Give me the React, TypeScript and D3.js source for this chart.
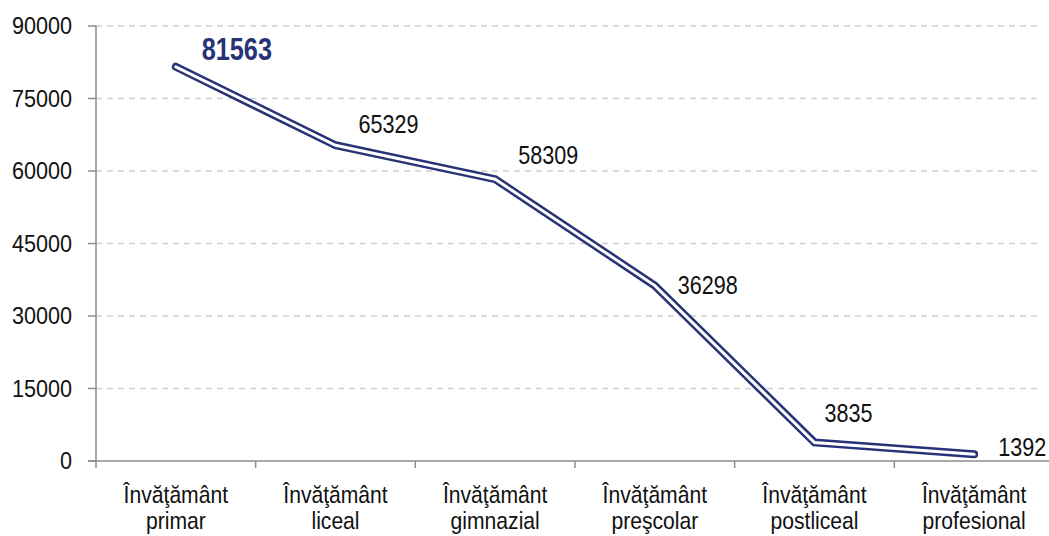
import React from "react";
import * as d3 from "d3";

const categoriesLine1 = ["Învăţământ", "Învăţământ", "Învăţământ", "Învăţământ", "Învăţământ", "Învăţământ"];
const categoriesLine2 = ["primar", "liceal", "gimnazial", "preşcolar", "postliceal", "profesional"];
const values = [81563, 65329, 58309, 36298, 3835, 1392];
const yTicks = [0, 15000, 30000, 45000, 60000, 75000, 90000];
// label offsets (layout) relative to each point
const labelDx = [61, 53, 53, 53, 34, 48];
const labelDy = [-18, -21, -24, -1, -29.5, -7];

const W = 1049;
const H = 536;
const m = { left: 96, right: 1054, top: 26, bottom: 461 };
const font = "'Liberation Sans', Arial, sans-serif";
const navy = "#283377";

function SText(props: {
  x: number;
  y: number;
  sx: number;
  size: number;
  anchor: string;
  weight?: string;
  fill?: string;
  dy?: string;
  children: React.ReactNode;
}) {
  return (
    <g transform={`translate(${props.x},${props.y}) scale(${props.sx},1)`}>
      <text
        x={0}
        y={0}
        dy={props.dy}
        textAnchor={props.anchor as any}
        fontSize={props.size}
        fontWeight={props.weight || "normal"}
        fill={props.fill || "#111"}
      >
        {props.children}
      </text>
    </g>
  );
}

export default function App() {
  const cats = values.map((_, i) => String(i));
  const x = d3.scaleBand().domain(cats).range([m.left, m.right]);
  const y = d3.scaleLinear().domain([0, 90000]).range([m.bottom, m.top]);
  const cx = (i: number) => (x(String(i)) as number) + x.bandwidth() / 2;
  const line = d3
    .line<number>()
    .x((_, i) => cx(i))
    .y((d) => y(d));
  const path = line(values) || "";
  return (
    <svg
      width={W}
      height={H}
      style={{ position: "absolute", left: 0, top: 0, background: "#fff" }}
      fontFamily={font}
    >
      {yTicks.map((t) =>
        t > 0 ? (
          <line
            key={"g" + t}
            x1={m.left}
            x2={W - 8}
            y1={y(t)}
            y2={y(t)}
            stroke="#d0d0d0"
            strokeWidth={1.3}
            strokeDasharray="6,5"
          />
        ) : null
      )}
      <line x1={m.left} x2={m.left} y1={m.top} y2={m.bottom} stroke="#8c8c8c" strokeWidth={1.5} />
      <line x1={m.left - 8} x2={W} y1={m.bottom} y2={m.bottom} stroke="#8c8c8c" strokeWidth={1.5} />
      {yTicks.map((t) => (
        <g key={"t" + t}>
          <line x1={m.left - 8} x2={m.left} y1={y(t)} y2={y(t)} stroke="#8c8c8c" strokeWidth={1.5} />
          <SText x={m.left - 24} y={y(t)} dy="0.35em" anchor="end" size={23.5} sx={0.92}>
            {t}
          </SText>
        </g>
      ))}
      {cats.map((c, i) => (
        <g key={"c" + i}>
          <line
            x1={x(c) as number}
            x2={x(c) as number}
            y1={m.bottom}
            y2={m.bottom + 7}
            stroke="#8c8c8c"
            strokeWidth={1.5}
          />
          <SText x={cx(i)} y={503} anchor="middle" size={24} sx={0.88}>
            {categoriesLine1[i]}
          </SText>
          <SText x={cx(i)} y={529} anchor="middle" size={24} sx={0.88}>
            {categoriesLine2[i]}
          </SText>
        </g>
      ))}
      <path d={path} fill="none" stroke={navy} strokeWidth={8} strokeLinejoin="miter" strokeLinecap="round" />
      <path d={path} fill="none" stroke="#fff" strokeWidth={3} strokeLinejoin="miter" strokeLinecap="round" />
      {values.map((v, i) => (
        <SText
          key={"v" + i}
          x={cx(i) + labelDx[i]}
          y={y(v) + labelDy[i]}
          dy="0.35em"
          anchor="middle"
          size={i === 0 ? 32 : 26}
          sx={i === 0 ? 0.79 : 0.83}
          weight={i === 0 ? "bold" : "normal"}
          fill={i === 0 ? navy : "#111"}
        >
          {v}
        </SText>
      ))}
    </svg>
  );
}
